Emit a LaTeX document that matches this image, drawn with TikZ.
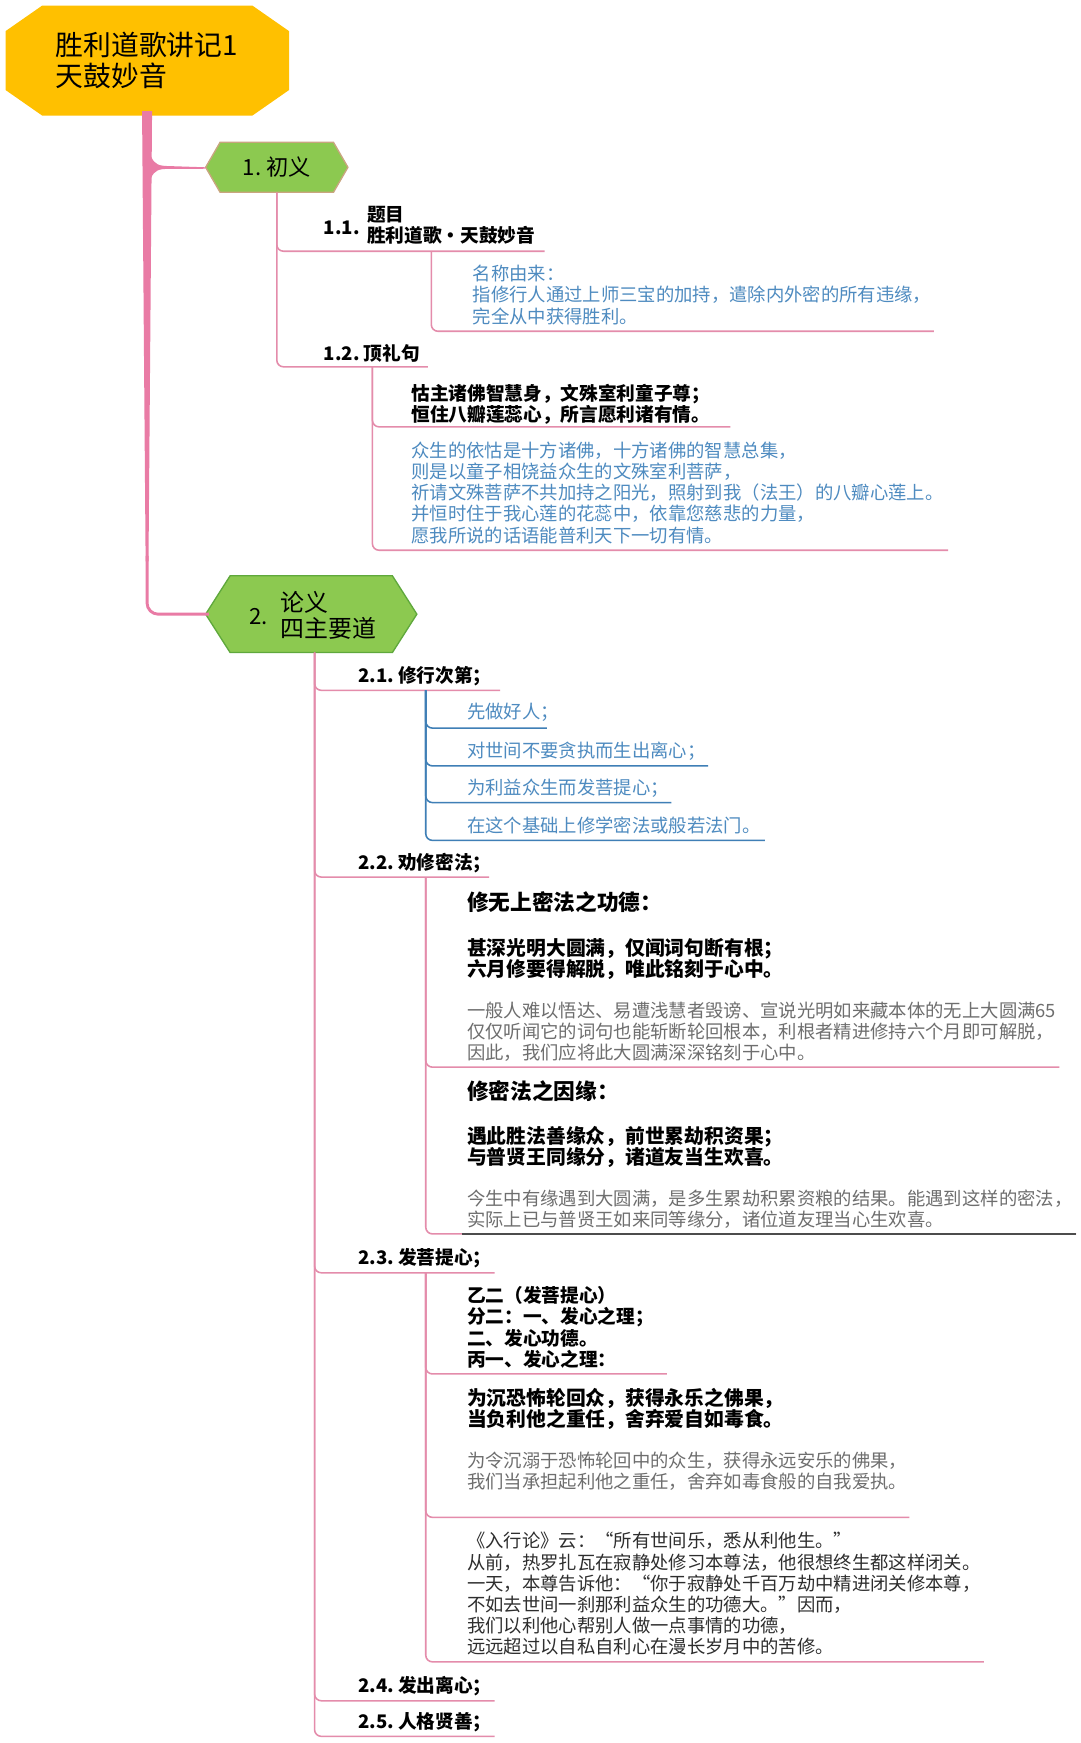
\documentclass[tikz,border=0pt]{standalone}
\usepackage{fontspec}
\newfontfamily\cjk{Noto Sans CJK SC}
\newcommand\myfs[2]{\fontsize{#1}{#2}\selectfont}
\definecolor{gold}{HTML}{FFC000}
\definecolor{leaf}{HTML}{8CC950}
\definecolor{leafedgea}{HTML}{C9A57F}
\definecolor{leafedgeb}{HTML}{5FA83C}
\definecolor{pinkc}{HTML}{E48CAB}
\definecolor{trunkc}{HTML}{E97BA5}
\definecolor{bluet}{HTML}{4E8BC0}
\definecolor{bluel}{HTML}{3F7FB6}
\definecolor{grayt}{HTML}{6E6E6E}
\definecolor{darkt}{HTML}{2E2E2E}
\begin{document}
\begin{tikzpicture}[x=1pt,y=-1pt,
  txt/.style={inner sep=0pt, align=left, anchor=north west},
  one/.style={inner sep=0pt, anchor=west},
  bk16/.style={font=\cjk\bfseries\myfs{16.8}{19}, text=black},
  bk17/.style={font=\cjk\bfseries\myfs{17.8}{19}, text=black},
  bk19/.style={font=\cjk\bfseries\myfs{19.5}{22}, text=black},
  bl16/.style={font=\cjk\myfs{16.5}{19}, text=bluet},
  gr16/.style={font=\cjk\myfs{16.5}{19}, text=grayt},
  dk16/.style={font=\cjk\myfs{16.5}{19}, text=darkt},
  pk/.style={draw=pinkc, line width=1.4, rounded corners=6},
  bl/.style={draw=bluel, line width=1.4, rounded corners=6}]
\useasboundingbox (0,0) rectangle (972,1568);
\fill[white] (0,0) rectangle (972,1568);

% ---------- shapes ----------
\fill[gold] (38,5) -- (227,5) -- (260,28) -- (260,81) -- (227,104) -- (38,104) -- (5,81) -- (5,28) -- cycle;
\filldraw[fill=leaf, draw=leafedgea, line width=1.2] (185,150.5) -- (198,128) -- (300,128) -- (313,150.5) -- (300,173) -- (198,173) -- cycle;
\filldraw[fill=leaf, draw=leafedgeb, line width=1.2] (185,552.5) -- (207,518) -- (353,518) -- (375,552.5) -- (353,587) -- (207,587) -- cycle;

% ---------- main nodes ----------
\node[txt, font=\cjk\myfs{25}{28}] (root) at (50,28.5) {胜利道歌讲记1\\天鼓妙音};
\node[inner sep=0pt, minimum width=128, minimum height=45, font=\cjk\myfs{20}{22}] (n1) at (249,150.5) {1.\ 初义};
\node[inner sep=0pt, minimum width=190, minimum height=69] (n2) at (283,552.5) {};
\node[one, font=\cjk\myfs{20}{22}] (t2a) at (224,555) {2.};
\node[txt, font=\cjk\myfs{21.5}{23}] (t2b) at (252,532) {论义\\四主要道};

% ---------- trunk ----------
\fill[trunkc] (127.8,100) -- (136.8,100) -- (133.6,505) -- (131,505) -- cycle;
\draw[trunkc, line width=2.6, rounded corners=10] (132.3,500) |- (n2.west);
\fill[trunkc] (136,141) .. controls (139,148) and (143,149.3) .. (152,149.4) -- (n1.west) -- (185,151.8) -- (152,151.9) .. controls (143,152) and (139,153) .. (136,160) -- cycle;

% ---------- section 1 ----------
\node[one, bk16] (l11) at (291,205) {1.1.};
\node[txt, bk16] (t11) at (330,185.5) {题目\\胜利道歌・天鼓妙音};
\coordinate (e11) at (490,226);
\draw[pk] (n1.south) |- (e11);
\node[txt, bl16] (t111) at (425,238.5) {名称由来：\\指修行人通过上师三宝的加持，遣除内外密的所有违缘，\\完全从中获得胜利。};
\coordinate (s11) at (388,226);
\coordinate (e111) at (840,298);
\draw[pk] (s11) |- (e111);

\node[one, bk16] (t12) at (291,318) {1.2.\ 顶礼句};
\coordinate (e12) at (385,330);
\draw[pk] (n1.south) |- (e12);
\coordinate (s12) at (335,330);
\node[txt, bk16] (t12a) at (370,345.5) {怙主诸佛智慧身，文殊室利童子尊；\\恒住八瓣莲蕊心，所言愿利诸有情。};
\coordinate (e12a) at (657,384);
\draw[pk] (s12) |- (e12a);
\node[txt, bl16] (t12b) at (370,397.5) {众生的依怙是十方诸佛，十方诸佛的智慧总集，\\则是以童子相饶益众生的文殊室利菩萨，\\祈请文殊菩萨不共加持之阳光，照射到我（法王）的八瓣心莲上。\\并恒时住于我心莲的花蕊中，依靠您慈悲的力量，\\愿我所说的话语能普利天下一切有情。};
\coordinate (e12b) at (853,495);
\draw[pk] (s12) |- (e12b);

% ---------- section 2 ----------
\node[one, bk16] (t21) at (322,608) {2.1.\ 修行次第；};
\coordinate (e21) at (450,621);
\draw[pk] (n2.south) |- (e21);
\coordinate (s21) at (383,621);
\node[one, bl16] (i1) at (420,641) {先做好人；};
\node[one, bl16] (i2) at (420,676) {对世间不要贪执而生出离心；};
\node[one, bl16] (i3) at (420,709) {为利益众生而发菩提心；};
\node[one, bl16] (i4) at (420,743) {在这个基础上修学密法或般若法门。};
\coordinate (ei1) at (492,655);
\coordinate (ei2) at (637,689);
\coordinate (ei3) at (604,722);
\coordinate (ei4) at (688,756);
\draw[bl] (s21) |- (ei1);
\draw[bl] (s21) |- (ei2);
\draw[bl] (s21) |- (ei3);
\draw[bl] (s21) |- (ei4);

\node[one, bk16] (t22) at (322,776) {2.2.\ 劝修密法；};
\coordinate (e22) at (440,789);
\draw[pk] (n2.south) |- (e22);
\coordinate (s22) at (383,789);
\node[one, bk19] (a0) at (420,812) {修无上密法之功德：};
\node[txt, bk17] (a1) at (420,843.8) {甚深光明大圆满，仅闻词句断有根；\\六月修要得解脱，唯此铭刻于心中。};
\node[txt, gr16] (a2) at (420,901.3) {一般人难以悟达、易遭浅慧者毁谤、宣说光明如来藏本体的无上大圆满65\\仅仅听闻它的词句也能斩断轮回根本，利根者精进修持六个月即可解脱，\\因此，我们应将此大圆满深深铭刻于心中。};
\coordinate (ea) at (953,960);
\draw[pk] (s22) |- (ea);
\node[one, bk19] (b0) at (420,982) {修密法之因缘：};
\node[txt, bk17] (b1) at (420,1012.8) {遇此胜法善缘众，前世累劫积资果；\\与普贤王同缘分，诸道友当生欢喜。};
\node[txt, gr16] (b2) at (420,1070.3) {今生中有缘遇到大圆满，是多生累劫积累资粮的结果。能遇到这样的密法，\\实际上已与普贤王如来同等缘分，诸位道友理当心生欢喜。};
\coordinate (eb) at (968,1110);
\coordinate (ebs) at (416,1110);
\draw[pk] (s22) |- (eb);
\draw[draw=black!70, line width=2] (ebs) -- (eb);

\node[one, bk16] (t23) at (322,1132) {2.3.\ 发菩提心；};
\coordinate (e23) at (445,1145);
\draw[pk] (n2.south) |- (e23);
\coordinate (s23) at (383,1145);
\node[txt, bk16] (c1) at (420,1157.3) {乙二（发菩提心）\\分二：一、发心之理；\\二、发心功德。\\丙一、发心之理：};
\coordinate (ec1) at (600,1236);
\draw[pk] (s23) |- (ec1);
\node[txt, bk17] (c2a) at (420,1248.8) {为沉恐怖轮回众，获得永乐之佛果，\\当负利他之重任，舍弃爱自如毒食。};
\node[txt, gr16] (c2b) at (420,1306.3) {为令沉溺于恐怖轮回中的众生，获得永远安乐的佛果，\\我们当承担起利他之重任，舍弃如毒食般的自我爱执。};
\coordinate (ec2) at (818,1365);
\draw[pk] (s23) |- (ec2);
\node[txt, dk16] (c3) at (420,1378.3) {《入行论》云：“所有世间乐，悉从利他生。”\\从前，热罗扎瓦在寂静处修习本尊法，他很想终生都这样闭关。\\一天，本尊告诉他：“你于寂静处千百万劫中精进闭关修本尊，\\不如去世间一刹那利益众生的功德大。”因而，\\我们以利他心帮别人做一点事情的功德，\\远远超过以自私自利心在漫长岁月中的苦修。};
\coordinate (ec3) at (885,1495);
\draw[pk] (s23) |- (ec3);

\node[one, bk16] (t24) at (322,1517) {2.4.\ 发出离心；};
\coordinate (e24) at (445,1530);
\draw[pk] (n2.south) |- (e24);
\node[one, bk16] (t25) at (322,1549) {2.5.\ 人格贤善；};
\coordinate (e25) at (445,1562);
\draw[pk] (n2.south) |- (e25);
\end{tikzpicture}
\end{document}
